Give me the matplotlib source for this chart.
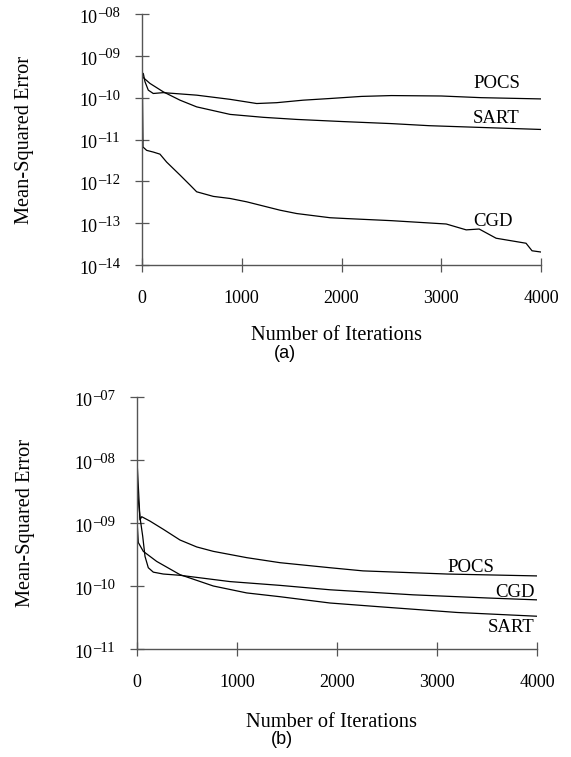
import matplotlib
matplotlib.use('Agg')
import matplotlib.pyplot as plt
import numpy as np

plt.rcParams['font.family'] = ['Liberation Serif', 'DejaVu Serif']

# (a) -- values, stored as log10(MSE)
a_pocs_it = [0, 13, 30, 63, 113, 213, 548, 883, 1150, 1350, 1615, 1885, 2200, 2500, 3000, 3400, 4000]
a_pocs_lg = [-9.5, -9.42, -9.62, -9.82, -9.90, -9.88, -9.94, -10.04, -10.14, -10.12, -10.06, -10.02,
             -9.97, -9.95, -9.96, -10.0, -10.03]

a_sart_it = [0, 13, 80, 213, 381, 548, 883, 1217, 1550, 2000, 2500, 2880, 3500, 4000]
a_sart_lg = [-9.45, -9.52, -9.66, -9.86, -10.06, -10.22, -10.40, -10.47, -10.52, -10.57, -10.62,
             -10.67, -10.72, -10.76]

a_cgd_it = [0, 5, 10, 47, 113, 180, 247, 381, 482, 548, 715, 883, 1050, 1384, 1551, 1885, 2050,
            2500, 3050, 3250, 3380, 3550, 3850, 3910, 4000]
a_cgd_lg = [-8.25, -10.0, -11.18, -11.26, -11.30, -11.35, -11.54, -11.85, -12.09, -12.25, -12.36,
            -12.41, -12.49, -12.69, -12.77, -12.87, -12.89, -12.94, -13.02, -13.16, -13.14, -13.36,
            -13.48, -13.66, -13.69]

# (b)
b_pocs_it = [0, 30, 47, 130, 263, 430, 597, 763, 1097, 1430, 1930, 2260, 3100, 4000]
b_pocs_lg = [-8.0, -8.95, -8.90, -8.97, -9.10, -9.27, -9.38, -9.45, -9.55, -9.63, -9.71, -9.76,
             -9.81, -9.84]

b_cgd_it = [0, 30, 57, 80, 113, 163, 263, 430, 930, 1430, 1930, 2760, 3500, 4000]
b_cgd_lg = [-8.42, -8.91, -9.21, -9.53, -9.71, -9.78, -9.81, -9.83, -9.93, -9.99, -10.06, -10.14,
            -10.19, -10.22]

b_sart_it = [0, 13, 63, 197, 430, 763, 1097, 1430, 1930, 2430, 3200, 4000]
b_sart_lg = [-8.95, -9.31, -9.45, -9.61, -9.82, -10.0, -10.11, -10.17, -10.27, -10.33, -10.42, -10.48]

x_ticks = [0, 1000, 2000, 3000, 4000]

W, H = 571, 757
fig = plt.figure(figsize=(W / 100, H / 100), dpi=100)


def px_axes(left, right, top, bottom):
    return fig.add_axes([left / W, 1 - bottom / H, (right - left) / W, (bottom - top) / H])


def style(ax, ylo, yhi, ylab_x, xlab_y):
    ax.set_yscale('log')
    ax.set_xlim(0, 4000)
    ax.set_ylim(10.0 ** ylo, 10.0 ** yhi)
    ax.set_xticks(x_ticks)
    ax.set_xticklabels([str(t) for t in x_ticks])
    exps = list(range(ylo, yhi + 1))
    ax.set_yticks([10.0 ** e for e in exps])
    ax.set_yticklabels([])
    ax.yaxis.set_minor_locator(matplotlib.ticker.NullLocator())
    # "10" with a large superscript exponent, as in the scanned figure
    tr = ax.get_yaxis_transform()
    for e in exps:
        ax.annotate('10', xy=(0, 10.0 ** e), xycoords=tr, xytext=(-32.2, -6.3),
                    textcoords='offset points', ha='right', va='baseline', fontsize=13)
        ax.annotate('\u2013%02d' % (-e), xy=(0, 10.0 ** e), xycoords=tr, xytext=(-31.8, -1.9),
                    textcoords='offset points', ha='left', va='baseline', fontsize=10.5)
    for s in ['top', 'right']:
        ax.spines[s].set_visible(False)
    for s in ['left', 'bottom']:
        ax.spines[s].set_color('#555555')
        ax.spines[s].set_linewidth(1.0)
    ax.tick_params(axis='both', direction='inout', length=9.5, width=0.9, color='#555555',
                   labelsize=13)
    ax.tick_params(axis='x', pad=13)
    ax.set_ylabel('Mean-Squared Error', fontsize=14.7)
    ax.yaxis.set_label_coords(ylab_x, 0.5)
    ax.set_xlabel('Number of Iterations', fontsize=14.7)
    ax.xaxis.set_label_coords(0.487, xlab_y)


def draw(ax, it, lg):
    ax.plot(it, 10.0 ** np.array(lg), color='black', lw=0.9)


ax1 = px_axes(142, 541, 14, 265)
draw(ax1, a_pocs_it, a_pocs_lg)
draw(ax1, a_sart_it, a_sart_lg)
draw(ax1, a_cgd_it, a_cgd_lg)
style(ax1, -14, -8, -0.270, -0.243)
ax1.text(3320, 10 ** -9.67, 'POCS', fontsize=13.5, va='center', ha='left')
ax1.text(3320, 10 ** -10.49, 'SART', fontsize=13.5, va='center', ha='left')
ax1.text(3320, 10 ** -12.95, 'CGD', fontsize=13.5, va='center', ha='left')

ax2 = px_axes(137, 537, 397, 649)
draw(ax2, b_pocs_it, b_pocs_lg)
draw(ax2, b_cgd_it, b_cgd_lg)
draw(ax2, b_sart_it, b_sart_lg)
style(ax2, -11, -7, -0.255, -0.254)
ax2.text(3100, 10 ** -9.70, 'POCS', fontsize=13.5, va='center', ha='left')
ax2.text(3580, 10 ** -10.10, 'CGD', fontsize=13.5, va='center', ha='left')
ax2.text(3510, 10 ** -10.66, 'SART', fontsize=13.5, va='center', ha='left')

fig.text(285 / W, 1 - 353 / H, '(a)', fontsize=13, family='Liberation Sans', ha='center', va='center')
fig.text(282 / W, 1 - 739 / H, '(b)', fontsize=13, family='Liberation Sans', ha='center', va='center')

fig.savefig('out.png', dpi=100)
